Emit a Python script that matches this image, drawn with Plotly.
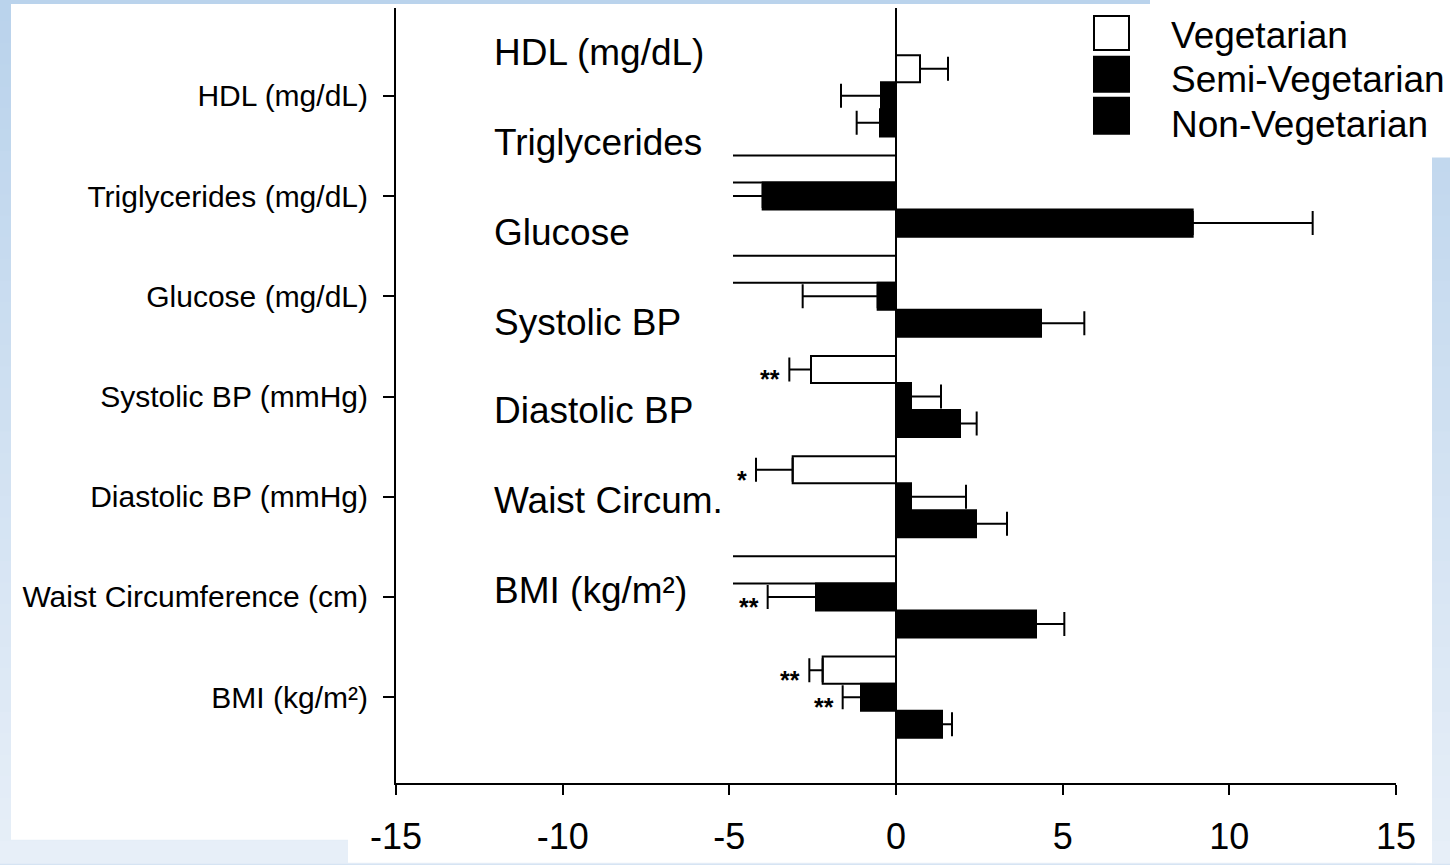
import plotly.graph_objects as go

# ---------------- data ----------------
categories = ["HDL (mg/dL)", "Triglycerides (mg/dL)", "Glucose (mg/dL)",
              "Systolic BP (mmHg)", "Diastolic BP (mmHg)",
              "Waist Circumference (cm)", "BMI (kg/m²)"]

veg_values = [0.72, -9.0, -5.8, -2.55, -3.1, -5.5, -2.2]
veg_errors = [0.84, 3.0, 2.0, 0.65, 1.1, 1.2, 0.4]

semi_values = [-0.45, -4.0, -0.55, 0.45, 0.45, -2.4, -1.05]
semi_errors = [1.2, 2.5, 2.25, 0.9, 1.65, 1.45, 0.55]

non_values = [-0.48, 8.9, 4.35, 1.92, 2.4, 4.2, 1.38]
non_errors = [0.7, 3.6, 1.3, 0.5, 0.93, 0.85, 0.3]

veg_sig = ["", "", "", "**", "*", "", "**"]
semi_sig = ["", "", "", "", "", "**", "**"]

series_names = ["Vegetarian", "Semi-Vegetarian", "Non-Vegetarian"]
overlay_labels = ["HDL (mg/dL)", "Triglycerides", "Glucose", "Systolic BP",
                  "Diastolic BP", "Waist Circum.", "BMI (kg/m²)"]
x_ticks = [-15, -10, -5, 0, 5, 10, 15]

# ---------------- geometry helpers ----------------
W_FIG, H_FIG = 1450, 865
L, R, T, B = 396, 1396, 8, 785
PW, PH = R - L, B - T


def xp(px):
    return (px - L) / PW


def yp(py):
    return (B - py) / PH


FONT = "Arial, Liberation Sans, sans-serif"


def one_sided(vals, errs):
    plus = [e if v >= 0 else 0 for v, e in zip(vals, errs)]
    minus = [e if v < 0 else 0 for v, e in zip(vals, errs)]
    return plus, minus


fig = go.Figure()
fills = ["white", "black", "black"]
for name, vals, errs, fill in zip(series_names,
                                  [veg_values, semi_values, non_values],
                                  [veg_errors, semi_errors, non_errors], fills):
    plus, minus = one_sided(vals, errs)
    fig.add_trace(go.Bar(
        name=name, y=categories, x=vals, orientation="h",
        marker=dict(color=fill, line=dict(color="black", width=2)),
        error_x=dict(type="data", symmetric=False, array=plus, arrayminus=minus,
                     color="black", thickness=2, width=12),
        showlegend=False,
    ))

shapes = []
# slide background: light blue gradient bands
n_bands = 40
c_top = (186, 211, 236)
c_bot = (231, 239, 248)
for i in range(n_bands):
    f = i / (n_bands - 1)
    col = "rgb(%d,%d,%d)" % tuple(int(a + (b - a) * f) for a, b in zip(c_top, c_bot))
    y0 = i * H_FIG / n_bands
    y1 = (i + 1) * H_FIG / n_bands + 1
    shapes.append(dict(type="rect", xref="paper", yref="paper", layer="below",
                       x0=xp(0), x1=xp(W_FIG), y0=yp(y1), y1=yp(y0),
                       fillcolor=col, line=dict(width=0)))
# white chart picture pieces
white_rects = [
    (11, 4, 1416, 842),
    (348, 4, 1432, 865),
    (1150, 0, 1450, 158),
    (1416, 805, 1432, 865),
]
for x0, y0, x1, y1 in white_rects:
    shapes.append(dict(type="rect", xref="paper", yref="paper", layer="below",
                       x0=xp(x0), x1=xp(x1), y0=yp(y1), y1=yp(y0),
                       fillcolor="white", line=dict(width=0)))
# white text box lying over the chart
shapes.append(dict(type="rect", xref="paper", yref="paper", layer="above",
                   x0=xp(470), x1=xp(733), y0=yp(630), y1=yp(14),
                   fillcolor="white", line=dict(width=0)))

# legend boxes
legend_boxes = [(1094, 16, 1129, 50, "white"), (1094, 57, 1129, 92, "black"),
                (1094, 98, 1129, 134, "black")]
for x0, y0, x1, y1, col in legend_boxes:
    shapes.append(dict(type="rect", xref="paper", yref="paper", layer="above",
                       x0=xp(x0), x1=xp(x1), y0=yp(y1), y1=yp(y0),
                       fillcolor=col, line=dict(color="black", width=2)))

annotations = []
legend_text_y = [36, 80, 125]
for name, ty in zip(series_names, legend_text_y):
    annotations.append(dict(text=name, xref="paper", yref="paper", x=xp(1169), y=yp(ty),
                            xanchor="left", yanchor="middle", showarrow=False,
                            font=dict(family=FONT, size=37, color="black")))

overlay_y = [53, 143, 233, 323, 412, 502, 592]
for lab, ty in zip(overlay_labels, overlay_y):
    annotations.append(dict(text=lab, xref="paper", yref="paper", x=xp(492), y=yp(ty),
                            xanchor="left", yanchor="middle", showarrow=False,
                            font=dict(family=FONT, size=37, color="black")))

# significance marks
for sigs, vals, errs, off in [(veg_sig, veg_values, veg_errors, -0.17),
                              (semi_sig, semi_values, semi_errors, 0.10)]:
    for i, s in enumerate(sigs):
        if s:
            annotations.append(dict(text="<b>%s</b>" % s, xref="x", yref="y",
                                    x=vals[i] - errs[i], y=i + off,
                                    xanchor="right", yanchor="middle", xshift=-7,
                                    showarrow=False,
                                    font=dict(family=FONT, size=25, color="black")))

fig.update_layout(
    width=W_FIG, height=H_FIG,
    margin=dict(l=L, r=W_FIG - R, t=T, b=H_FIG - B),
    paper_bgcolor="rgb(214,228,243)", plot_bgcolor="white",
    barmode="group", bargap=0.19, bargroupgap=0,
    shapes=shapes, annotations=annotations,
    showlegend=False,
)
fig.update_xaxes(range=[-15, 15], tickvals=x_ticks, ticktext=[str(v) for v in x_ticks],
                 showgrid=False, zeroline=True, zerolinecolor="black", zerolinewidth=2,
                 showline=True, linecolor="black", linewidth=2,
                 ticks="outside", ticklen=10, tickwidth=2, tickcolor="black",
                 tickfont=dict(family=FONT, size=36, color="black"),
                 ticklabelstandoff=11)
fig.update_yaxes(categoryorder="array", categoryarray=categories,
                 range=[6.856, -0.876], showgrid=False, zeroline=False,
                 showline=True, linecolor="black", linewidth=2,
                 ticks="outside", ticklen=11, tickwidth=2, tickcolor="black",
                 tickfont=dict(family=FONT, size=30, color="black"),
                 ticklabelstandoff=9)

fig.write_html("out.html",
               config={"displayModeBar": False},
               post_script="document.body.style.margin='0px';"
                           "document.body.style.overflow='hidden';")
